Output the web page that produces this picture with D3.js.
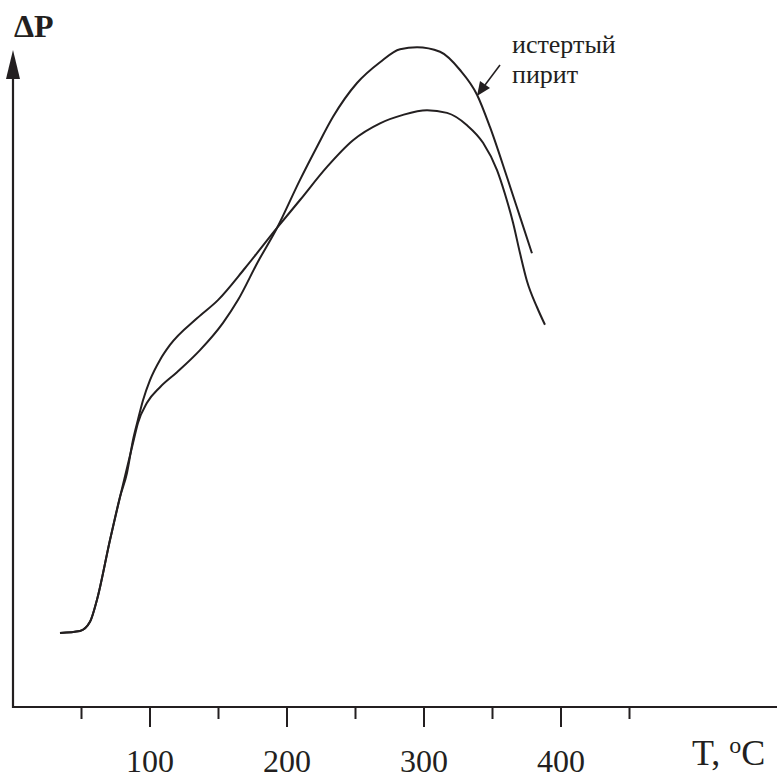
<!DOCTYPE html>
<html>
<head>
<meta charset="utf-8">
<script src="https://cdn.jsdelivr.net/npm/d3@7"></script>
<style>
  body { margin: 0; background: #fff; }
  svg { display: block; font-family: "Liberation Serif", "Times New Roman", serif; }
</style>
</head>
<body>
<div id="chart"></div>
<script>
// temperature, deg C
var tA = [34.3, 48.9, 56.2, 61.3, 70.8, 78.1, 87.6, 91.2, 97.8, 107.3, 119.7, 136.5, 153.3, 164.2, 178.8, 192.7, 209.5, 221.9, 233.6, 251.1, 267.9, 282.5, 294.9, 311.7, 326.3, 338.7, 348.2, 360.6, 370.1, 378.8];
// dP for the ground pyrite (higher peak)
var pA = [11.4, 11.7, 13.1, 16.5, 25.7, 32.3, 40.6, 43.7, 46.8, 49.2, 51.5, 54.9, 59.1, 62.6, 68.5, 73.7, 81.1, 86.2, 90.8, 96.0, 99.2, 101.2, 101.5, 100.8, 98.0, 94.2, 89.2, 81.5, 75.4, 69.8];

var tB = [34.3, 48.9, 56.2, 61.3, 70.8, 78.1, 83.2, 87.6, 91.2, 94.9, 100, 107.3, 114.6, 134.3, 149.6, 169.3, 192.7, 209.5, 229.2, 248.2, 267.9, 284.7, 302.2, 316.8, 331.4, 343.1, 353.3, 359.0, 365.0, 370.1, 375.2, 382.5, 388.3];
var pB = [11.4, 11.7, 13.1, 16.5, 25.7, 32.3, 36.0, 41.1, 44.2, 47.2, 50.3, 53.4, 55.7, 59.8, 62.6, 67.5, 73.7, 78.0, 83.1, 87.2, 89.8, 91.1, 91.8, 91.4, 89.5, 86.8, 82.6, 79.0, 74.5, 69.8, 65.5, 61.5, 58.8];

var majorTicks = [100, 200, 300, 400];
var minorTicks = [50, 150, 250, 350, 450];

var W = 777, H = 778;
var ink = "#231f20";

var svg = d3.select("#chart").append("svg")
  .attr("width", W).attr("height", H);

var x = d3.scaleLinear().domain([0, 100]).range([13, 150]);
var y = d3.scaleLinear().domain([0, 100]).range([707, 57]);

// axes
svg.append("line")
  .attr("x1", x(0)).attr("x2", W)
  .attr("y1", y(0)).attr("y2", y(0))
  .attr("stroke", ink).attr("stroke-width", 2.2);
svg.append("line")
  .attr("x1", x(0)).attr("x2", x(0))
  .attr("y1", y(0) + 1).attr("y2", 75)
  .attr("stroke", ink).attr("stroke-width", 2.2);
svg.append("path")
  .attr("d", "M" + x(0) + ",50 L" + (x(0) - 7) + ",79 L" + (x(0) + 7) + ",79 Z")
  .attr("fill", ink);

svg.selectAll(".major").data(majorTicks).enter().append("line")
  .attr("x1", function(d) { return x(d); }).attr("x2", function(d) { return x(d); })
  .attr("y1", y(0)).attr("y2", y(0) + 20)
  .attr("stroke", ink).attr("stroke-width", 2);
svg.selectAll(".minor").data(minorTicks).enter().append("line")
  .attr("x1", function(d) { return x(d); }).attr("x2", function(d) { return x(d); })
  .attr("y1", y(0)).attr("y2", y(0) + 12)
  .attr("stroke", ink).attr("stroke-width", 2);

svg.selectAll(".tlab").data(majorTicks).enter().append("text")
  .attr("x", function(d) { return x(d); })
  .attr("y", 772)
  .attr("text-anchor", "middle")
  .style("font-size", "32px")
  .attr("fill", ink)
  .text(function(d) { return d; });

// axis titles
var xt = svg.append("text")
  .attr("x", 692).attr("y", 765)
  .style("font-size", "36px")
  .attr("fill", ink);
xt.append("tspan").text("T, ");
xt.append("tspan").attr("dy", -12).style("font-size", "24px").text("o");
xt.append("tspan").attr("dy", 12).text("C");

svg.append("text")
  .attr("x", 14).attr("y", 37)
  .style("font-size", "32px")
  .style("font-weight", "bold")
  .attr("fill", ink)
  .text("ΔP");

// curves
var line = d3.line()
  .x(function(d) { return x(d[0]); })
  .y(function(d) { return y(d[1]); })
  .curve(d3.curveMonotoneX);

svg.append("path")
  .datum(d3.zip(tA, pA))
  .attr("d", line)
  .attr("fill", "none").attr("stroke", ink).attr("stroke-width", 2);
svg.append("path")
  .datum(d3.zip(tB, pB))
  .attr("d", line)
  .attr("fill", "none").attr("stroke", ink).attr("stroke-width", 2);

// label with pointer
svg.append("text")
  .attr("x", 512).attr("y", 53)
  .style("font-size", "26px")
  .attr("fill", ink)
  .text("истертый");
svg.append("text")
  .attr("x", 512).attr("y", 83)
  .style("font-size", "26px")
  .attr("fill", ink)
  .text("пирит");

svg.append("line")
  .attr("x1", 500).attr("y1", 65)
  .attr("x2", 485).attr("y2", 85)
  .attr("stroke", ink).attr("stroke-width", 1.6);
svg.append("path")
  .attr("d", "M477,96 L480,81 L490,88 Z")
  .attr("fill", ink);
</script>
</body>
</html>
